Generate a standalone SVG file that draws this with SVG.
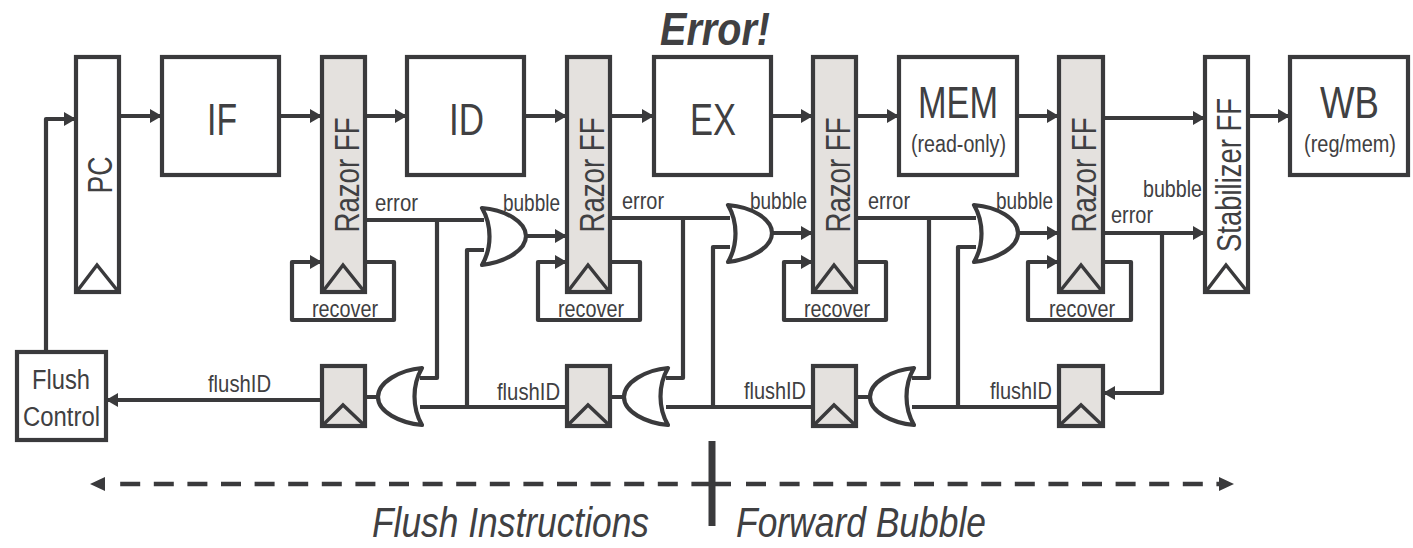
<svg xmlns="http://www.w3.org/2000/svg" width="1413" height="548" viewBox="0 0 1413 548">
<style>
.b{fill:#fff;stroke:#3a3a3c;stroke-width:4.2}
.g{fill:#e4e1de;stroke:#3a3a3c;stroke-width:4.2}
.ck{fill:none;stroke:#3a3a3c;stroke-width:3.5}
.w{fill:none;stroke:#3a3a3c;stroke-width:4.2;stroke-linejoin:round}
.gate{fill:#fff;stroke:#3a3a3c;stroke-width:4.2;stroke-linejoin:round}
.t{font-family:"Liberation Sans",Arial,sans-serif;fill:#404042}
.s{font-size:24px}
.m{font-size:44px}
.r{font-size:35px;text-anchor:middle}
.sub{font-size:23px}
.i{font-size:43px;font-style:italic}
.da{fill:none;stroke:#3a3a3c;stroke-width:4.5;stroke-dasharray:20 13.6}
</style>
<defs>
<marker id="a" markerUnits="userSpaceOnUse" markerWidth="16" markerHeight="18" refX="15" refY="9" orient="auto"><path d="M3 2L15 9L3 16Z" fill="#3a3a3c"/></marker>
<path id="or" class="gate" d="M0 0C24 2 44 14 44 28C44 42 24 54 0 57C10 40 10 17 0 0Z"/>
<path id="orl" class="gate" d="M44 0C22 2 0 14 0 29C0 44 22 55 44 57C34 40 34 17 44 0Z"/>
</defs>
<g id="connectors">
<path class="w" marker-end="url(#a)" d="M46 352V119H76"/>
<path class="w" marker-end="url(#a)" d="M119 116H162"/>
<path class="w" marker-end="url(#a)" d="M279 116H322"/>
<path class="w" marker-end="url(#a)" d="M365 116H407"/>
<path class="w" marker-end="url(#a)" d="M524 116H567"/>
<path class="w" marker-end="url(#a)" d="M610 116H654"/>
<path class="w" marker-end="url(#a)" d="M771 116H813"/>
<path class="w" marker-end="url(#a)" d="M856 116H899"/>
<path class="w" marker-end="url(#a)" d="M1017 116H1059"/>
<path class="w" marker-end="url(#a)" d="M1103 118H1205"/>
<path class="w" marker-end="url(#a)" d="M1248 116H1290"/>
<path class="w" marker-end="url(#a)" d="M322 400H106"/>
<path class="w" marker-end="url(#a)" d="M1162 233V393H1103"/>
<path class="w" marker-end="url(#a)" d="M1103 233H1205"/>
<path class="w" marker-end="url(#a)" d="M365 262H394V320H292V262H322"/>
<path class="w" marker-end="url(#a)" d="M610 262H640V320H538V262H567"/>
<path class="w" marker-end="url(#a)" d="M856 262H886V320H784V262H813"/>
<path class="w" marker-end="url(#a)" d="M1103 262H1131V320H1028V262H1059"/>
<path class="w" d="M365 220H484M437 220V378H420M484 250H467V407H567M420 407H467"/>
<path class="w" d="M610 218H730M683 218V378H666M730 247H713V407M666 407H813"/>
<path class="w" d="M856 218H976M929 218V378H912M976 247H958V407M912 407H1059"/>
<path class="w" d="M365 397H378M610 397H624M856 397H870"/>
<path class="w" marker-end="url(#a)" d="M526 236H567"/>
<path class="w" marker-end="url(#a)" d="M772 233H813"/>
<path class="w" marker-end="url(#a)" d="M1018 233H1059"/>
<path class="da" stroke-dashoffset="20.4" d="M107 484H693"/>
<path class="da" d="M746 484H1220"/>
<path d="M105 477L90 484L105 491Z" fill="#3a3a3c"/>
<path d="M1219 477L1234 484L1219 491Z" fill="#3a3a3c"/>
<path d="M693 484H731" fill="none" stroke="#3a3a3c" stroke-width="4.5"/>
<path d="M712 441V526" fill="none" stroke="#3a3a3c" stroke-width="7"/>
</g>
<g id="pc"><rect class="b" x="76" y="57" width="43" height="235"/><path class="ck" d="M78 290L97 265L117 290"/><text class="t r" transform="translate(112,175) rotate(-90)" textLength="37" lengthAdjust="spacingAndGlyphs">PC</text></g>
<g id="if"><rect class="b" x="162" y="57" width="117" height="118"/><text class="t m" x="207" y="135" textLength="30" lengthAdjust="spacingAndGlyphs">IF</text></g>
<g id="razor1"><rect class="g" x="322" y="57" width="43" height="235"/><path class="ck" d="M324 290L343 265L363 290"/><text class="t r" transform="translate(359,175) rotate(-90)" textLength="115" lengthAdjust="spacingAndGlyphs">Razor FF</text></g>
<g id="id"><rect class="b" x="407" y="57" width="117" height="118"/><text class="t m" x="449" y="135" textLength="35" lengthAdjust="spacingAndGlyphs">ID</text></g>
<g id="razor2"><rect class="g" x="567" y="57" width="43" height="235"/><path class="ck" d="M569 290L588 265L608 290"/><text class="t r" transform="translate(604,175) rotate(-90)" textLength="115" lengthAdjust="spacingAndGlyphs">Razor FF</text></g>
<g id="ex"><rect class="b" x="654" y="57" width="117" height="118"/><text class="t m" x="690" y="135" textLength="46" lengthAdjust="spacingAndGlyphs">EX</text></g>
<g id="razor3"><rect class="g" x="813" y="57" width="43" height="235"/><path class="ck" d="M815 290L834 265L854 290"/><text class="t r" transform="translate(850,175) rotate(-90)" textLength="115" lengthAdjust="spacingAndGlyphs">Razor FF</text></g>
<g id="mem"><rect class="b" x="899" y="57" width="118" height="118"/><text class="t m" x="918" y="118" textLength="80" lengthAdjust="spacingAndGlyphs">MEM</text><text class="t sub" x="911" y="152" textLength="95" lengthAdjust="spacingAndGlyphs">(read-only)</text></g>
<g id="razor4"><rect class="g" x="1059" y="57" width="44" height="235"/><path class="ck" d="M1061 290L1081 265L1101 290"/><text class="t r" transform="translate(1096,175) rotate(-90)" textLength="115" lengthAdjust="spacingAndGlyphs">Razor FF</text></g>
<g id="stabilizer"><rect class="b" x="1205" y="57" width="43" height="235"/><path class="ck" d="M1207 290L1226 265L1246 290"/><text class="t r" transform="translate(1241,175) rotate(-90)" textLength="154" lengthAdjust="spacingAndGlyphs">Stabilizer FF</text></g>
<g id="wb"><rect class="b" x="1290" y="57" width="118" height="118"/><text class="t m" x="1320" y="118" textLength="59" lengthAdjust="spacingAndGlyphs">WB</text><text class="t sub" x="1304" y="152" textLength="92" lengthAdjust="spacingAndGlyphs">(reg/mem)</text></g>
<g id="flush-control"><rect class="b" x="17" y="352" width="89" height="88"/><text class="t" x="32" y="389" font-size="27" textLength="58" lengthAdjust="spacingAndGlyphs">Flush</text><text class="t" x="23" y="426" font-size="27" textLength="77" lengthAdjust="spacingAndGlyphs">Control</text></g>
<g id="ff1"><rect class="g" x="322" y="366" width="43" height="60"/><path class="ck" d="M324 424L343 405L363 424"/></g>
<g id="ff2"><rect class="g" x="567" y="366" width="43" height="60"/><path class="ck" d="M569 424L588 405L608 424"/></g>
<g id="ff3"><rect class="g" x="813" y="366" width="43" height="60"/><path class="ck" d="M815 424L834 405L854 424"/></g>
<g id="ff4"><rect class="g" x="1059" y="366" width="44" height="60"/><path class="ck" d="M1061 424L1081 405L1101 424"/></g>
<g id="and1"><use href="#or" x="482" y="208"/></g>
<g id="and2"><use href="#or" x="728" y="205"/></g>
<g id="and3"><use href="#or" x="974" y="205"/></g>
<g id="or1"><use href="#orl" x="378" y="368"/></g>
<g id="or2"><use href="#orl" x="624" y="368"/></g>
<g id="or3"><use href="#orl" x="870" y="368"/></g>
<g id="labels">
<text class="t s" x="375" y="211" textLength="43" lengthAdjust="spacingAndGlyphs">error</text>
<text class="t s" x="622" y="209" textLength="42" lengthAdjust="spacingAndGlyphs">error</text>
<text class="t s" x="868" y="209" textLength="42" lengthAdjust="spacingAndGlyphs">error</text>
<text class="t s" x="1111" y="223" textLength="42" lengthAdjust="spacingAndGlyphs">error</text>
<text class="t s" x="503" y="211" textLength="57" lengthAdjust="spacingAndGlyphs">bubble</text>
<text class="t s" x="750" y="209" textLength="57" lengthAdjust="spacingAndGlyphs">bubble</text>
<text class="t s" x="996" y="209" textLength="57" lengthAdjust="spacingAndGlyphs">bubble</text>
<text class="t s" x="1143" y="197" textLength="59" lengthAdjust="spacingAndGlyphs">bubble</text>
<text class="t s" x="312" y="317" textLength="66" lengthAdjust="spacingAndGlyphs">recover</text>
<text class="t s" x="558" y="317" textLength="66" lengthAdjust="spacingAndGlyphs">recover</text>
<text class="t s" x="804" y="317" textLength="66" lengthAdjust="spacingAndGlyphs">recover</text>
<text class="t s" x="1049" y="317" textLength="66" lengthAdjust="spacingAndGlyphs">recover</text>
<text class="t s" x="208" y="392" textLength="63" lengthAdjust="spacingAndGlyphs">flushID</text>
<text class="t s" x="497" y="400" textLength="63" lengthAdjust="spacingAndGlyphs">flushID</text>
<text class="t s" x="744" y="399" textLength="62" lengthAdjust="spacingAndGlyphs">flushID</text>
<text class="t s" x="990" y="399" textLength="62" lengthAdjust="spacingAndGlyphs">flushID</text>
<text class="t" x="660" y="45" font-size="46" font-style="italic" font-weight="bold" textLength="110" lengthAdjust="spacingAndGlyphs">Error!</text>
<text class="t i" x="372" y="537" textLength="277" lengthAdjust="spacingAndGlyphs">Flush Instructions</text>
<text class="t i" x="736" y="537" textLength="250" lengthAdjust="spacingAndGlyphs">Forward Bubble</text>
</g>
</svg>
